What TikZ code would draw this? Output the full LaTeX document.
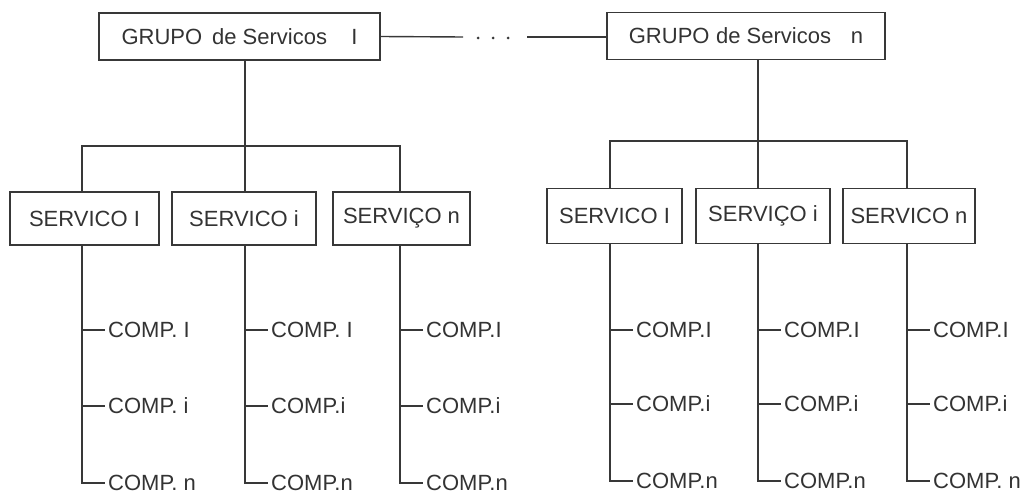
\documentclass[tikz,border=0pt]{standalone}
\usepackage{fontspec}
\setmainfont{Liberation Sans}
\begin{document}
\begin{tikzpicture}[x=1pt,y=-1pt,
  ink/.style={draw=black!78, line width=1.4pt},
  txt/.style={text=black!80, font=\fontsize{22}{26}\selectfont},
  grp/.style={ink, txt, inner sep=0pt, minimum height=47pt},
  svc/.style={ink, txt, inner sep=0pt},
  comp/.style={txt, anchor=west, inner sep=3pt}]
\useasboundingbox[fill=white] (0,0) rectangle (1026,495);

% service groups
\node[grp, minimum width=281pt] (g1) at (239.5,36.5) {GRUPO\hspace{0.45em}de Servicos\hspace{1.1em}I\hspace{0.6em}};
\node[grp, minimum width=278pt] (g2) at (746,36) {GRUPO\hspace{0.3em}de Servicos\hspace{0.9em}n\hspace{0.4em}};

% link between the groups
\coordinate (d1) at (463,37);
\coordinate (d2) at (527,37);
\draw[ink] (g1.east) -- (d1);
\draw[ink] (d2) -- (g2.west |- d2);
\foreach \x in {478,493,508} \fill[black!78] (\x,38) circle (1.5pt);

% junctions on the distribution bars
\coordinate (k11) at (82,146);
\coordinate (k12) at (245,146);
\coordinate (k13) at (400,146);
\coordinate (k21) at (610,141);
\coordinate (k22) at (758,141);
\coordinate (k23) at (907,141);

% services
\node[svc, minimum width=149pt, minimum height=53pt] (s11) at (84.5,218.5) {SERVICO I};
\node[svc, minimum width=144pt, minimum height=53pt] (s12) at (244,218.5) {SERVICO i};
\node[svc, minimum width=137pt, minimum height=53pt] (s13) at (401.5,218.5) {SERVIÇO n};
\node[svc, minimum width=135pt, minimum height=55pt] (s21) at (614.5,216) {SERVICO I};
\node[svc, minimum width=134pt, minimum height=55pt] (s22) at (763,216) {SERVIÇO i};
\node[svc, minimum width=132pt, minimum height=55pt] (s23) at (909,216) {SERVICO n};

% group -> bar -> services
\draw[ink] (g1.south -| k12) -- (k12);
\draw[ink] (g2.south -| k22) -- (k22);
\draw[ink] (k11 |- s11.north) -- (k11) -- (k13) -- (k13 |- s13.north);
\draw[ink] (k12) -- (k12 |- s12.north);
\draw[ink] (k21 |- s21.north) -- (k21) -- (k23) -- (k23 |- s23.north);
\draw[ink] (k22) -- (k22 |- s22.north);

% components
\node[comp] (c111) at (105,330) {COMP.\ I};
\node[comp] (c112) at (105,406) {COMP.\ i};
\node[comp] (c113) at (105,483) {COMP.\ n};
\node[comp] (c121) at (268,330) {COMP.\ I};
\node[comp] (c122) at (268,406) {COMP.i};
\node[comp] (c123) at (268,483) {COMP.n};
\node[comp] (c131) at (423,330) {COMP.I};
\node[comp] (c132) at (423,406) {COMP.i};
\node[comp] (c133) at (423,483) {COMP.n};
\node[comp] (c211) at (633,330) {COMP.I};
\node[comp] (c212) at (633,404) {COMP.i};
\node[comp] (c213) at (633,481) {COMP.n};
\node[comp] (c221) at (781,330) {COMP.I};
\node[comp] (c222) at (781,404) {COMP.i};
\node[comp] (c223) at (781,481) {COMP.n};
\node[comp] (c231) at (930,330) {COMP.I};
\node[comp] (c232) at (930,404) {COMP.i};
\node[comp] (c233) at (930,481) {COMP.\ n};

% service -> components
\foreach \g/\s/\k in {1/1/k11,1/2/k12,1/3/k13,2/1/k21,2/2/k22,2/3/k23}{
  \draw[ink] (\k |- s\g\s.south) |- (c\g\s3.west);
  \draw[ink] (\k |- c\g\s1.west) -- (c\g\s1.west);
  \draw[ink] (\k |- c\g\s2.west) -- (c\g\s2.west);
}
\end{tikzpicture}
\end{document}
